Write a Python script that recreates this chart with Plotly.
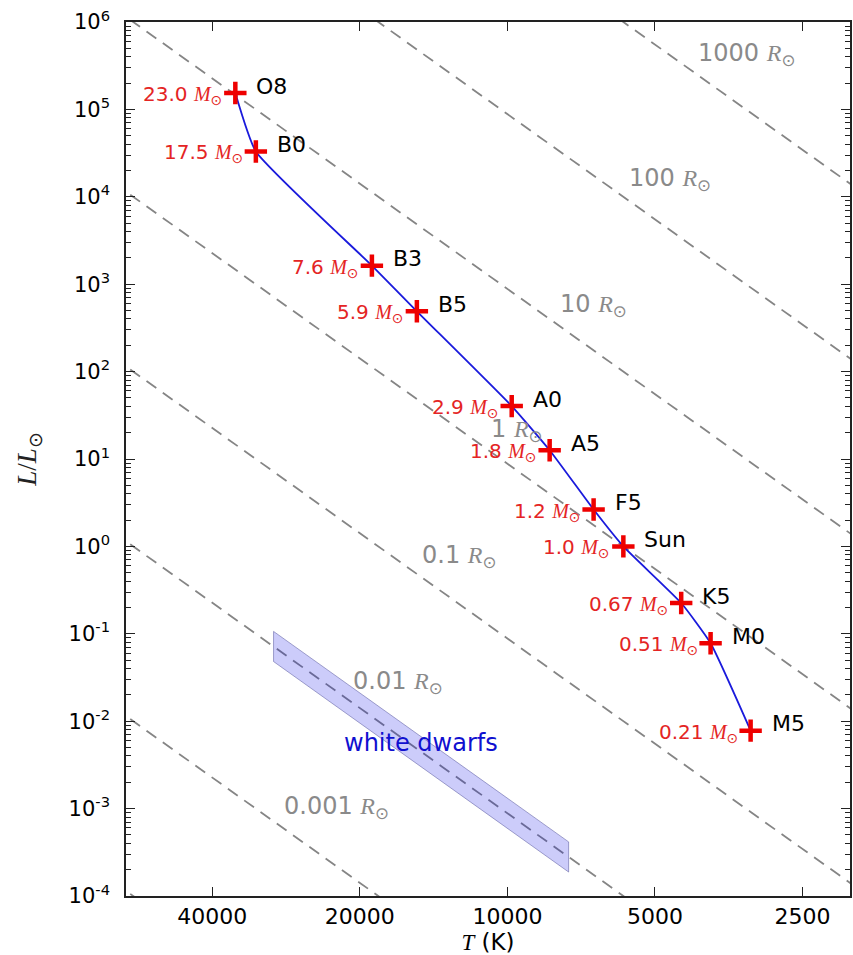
import numpy as np
import plotly.graph_objects as go

# ---- data ----
spectral_types = ['O8', 'B0', 'B3', 'B5', 'A0', 'A5', 'F5', 'Sun', 'K5', 'M0', 'M5']
masses = ['23.0', '17.5', '7.6', '5.9', '2.9', '1.8', '1.2', '1.0', '0.67', '0.51', '0.21']
temperatures = [35900, 32600, 18900, 15300, 9800, 8200, 6670, 5800, 4420, 3850, 3190]
luminosities = [1.54e5, 3.3e4, 1.63e3, 4.9e2, 40.3, 12.6, 2.64, 1.0, 0.225, 0.078, 0.0078]

radii = [1e-4, 1e-3, 1e-2, 1e-1, 1, 10, 100, 1000]
radius_label_values = [1e-3, 1e-2, 1e-1, 1, 10, 100, 1000]
radius_label_text = ['0.001', '0.01', '0.1', '1', '10', '100', '1000']

wd_temperatures = [30000, 7500]
wd_radii = [0.0082, 0.0122]
wd_label_T = 15000
wd_label_L = 0.0057

x_tick_vals = [40000, 20000, 10000, 5000, 2500]
x_tick_text = ['40000', '20000', '10000', '5000', '2500']
y_exponents = [-4, -3, -2, -1, 0, 1, 2, 3, 4, 5, 6]

T_SUN = 5800.0
T_RANGE = [60000, 2000]


def lum(R, T):
    T = np.asarray(T, dtype=float)
    return R ** 2 * (T / T_SUN) ** 4


fig = go.Figure()

# constant radius lines
T_line = np.array([2.0e5, 1.0e3])
for R in radii:
    fig.add_trace(go.Scatter(x=T_line, y=lum(R, T_line), mode='lines',
                             line=dict(color='#858585', width=1.8, dash='12px,8px'),
                             hoverinfo='skip', showlegend=False))

# white dwarf band
wx = [wd_temperatures[0], wd_temperatures[1], wd_temperatures[1], wd_temperatures[0], wd_temperatures[0]]
wy = [lum(wd_radii[1], wd_temperatures[0]), lum(wd_radii[1], wd_temperatures[1]),
      lum(wd_radii[0], wd_temperatures[1]), lum(wd_radii[0], wd_temperatures[0]),
      lum(wd_radii[1], wd_temperatures[0])]
fig.add_trace(go.Scatter(x=wx, y=[float(v) for v in wy], mode='lines', fill='toself',
                         fillcolor='rgba(0,0,230,0.2)',
                         line=dict(color='rgba(60,60,140,0.45)', width=1),
                         hoverinfo='skip', showlegend=False))

# main sequence curve
fig.add_trace(go.Scatter(x=temperatures, y=luminosities, mode='lines',
                         line=dict(color='#1a1adc', width=1.8, shape='spline', smoothing=0.45),
                         hoverinfo='skip', showlegend=False))
fig.add_trace(go.Scatter(x=temperatures, y=luminosities, mode='markers',
                         marker=dict(symbol='cross-thin', size=16, color='#ee0000',
                                     line=dict(color='#ee0000', width=4.5)),
                         hoverinfo='skip', showlegend=False))

annotations = []
SERIF = 'Liberation Serif'
for T, L, sp, m in zip(temperatures, luminosities, spectral_types, masses):
    annotations.append(dict(x=np.log10(T), y=np.log10(L), xref='x', yref='y',
                            text=sp, showarrow=False, xanchor='left', yanchor='middle',
                            xshift=19, yshift=7,
                            font=dict(family='DejaVu Sans', size=22, color='black')))
    annotations.append(dict(x=np.log10(T), y=np.log10(L), xref='x', yref='y',
                            text=f"{m} <span style='font-family:{SERIF}'><i>M</i></span><sub>⊙</sub>",
                            showarrow=False, xanchor='right', yanchor='middle',
                            xshift=-11, yshift=-2,
                            font=dict(family='DejaVu Sans', size=20, color='#e42424')))

# radius labels
for R, txt in zip(radius_label_values, radius_label_text):
    T_lab = 10888.0 * R ** (-0.1408)
    L_lab = lum(R, T_lab) * 10 ** 0.239
    annotations.append(dict(x=np.log10(T_lab), y=float(np.log10(L_lab)), xref='x', yref='y',
                            text=f"{txt} <span style='font-family:{SERIF}'><i>R</i></span><sub>⊙</sub>",
                            showarrow=False, xanchor='left', yanchor='middle', yshift=-1,
                            font=dict(family='DejaVu Sans', size=24, color='#8a8a8a')))

annotations.append(dict(x=np.log10(wd_label_T), y=np.log10(wd_label_L), xref='x', yref='y',
                        text='white dwarfs', showarrow=False, xanchor='center', yanchor='middle',
                        font=dict(family='DejaVu Sans', size=24, color='#1010d0')))

minor_y = [k * 10.0 ** e for e in range(-4, 6) for k in range(2, 10)]

fig.update_layout(
    width=853, height=955,
    margin=dict(l=126, r=1, t=22, b=59),
    paper_bgcolor='white', plot_bgcolor='white',
    annotations=annotations,
    showlegend=False,
    xaxis=dict(type='log', range=[np.log10(T_RANGE[0]), np.log10(T_RANGE[1])],
               tickmode='array', tickvals=x_tick_vals, ticktext=x_tick_text,
               ticks='inside', ticklen=9, tickwidth=1.3, tickcolor='#222',
               showline=True, linecolor='#222', linewidth=1.6, mirror='ticks',
               showgrid=False, zeroline=False,
               tickfont=dict(family='DejaVu Sans', size=22, color='black'),
               title=dict(text="<span style='font-family:Liberation Serif'><i>T</i></span> (K)",
                          font=dict(family='DejaVu Sans', size=23, color='black'), standoff=6)),
    yaxis=dict(type='log', range=[-4, 6],
               tickmode='array', tickvals=[10.0 ** e for e in y_exponents],
               ticktext=[f"10<sup>{e}</sup>" for e in y_exponents],
               ticks='inside', ticklen=9, tickwidth=1.3, tickcolor='#222',
               minor=dict(tickmode='array', tickvals=minor_y, ticks='inside', ticklen=5,
                          tickwidth=1, tickcolor='#222', showgrid=False),
               showline=True, linecolor='#222', linewidth=1.6, mirror='ticks',
               showgrid=False, zeroline=False, ticklabelstandoff=10,
               tickfont=dict(family='DejaVu Sans', size=21, color='black'),
               title=dict(text="<i>L</i>/<i>L</i><sub>⊙</sub>",
                          font=dict(family='Liberation Serif', size=27, color='#222'), standoff=24)),
)

fig.write_html("out.html", post_script="document.body.style.margin='0';",
               config={'displayModeBar': False})
